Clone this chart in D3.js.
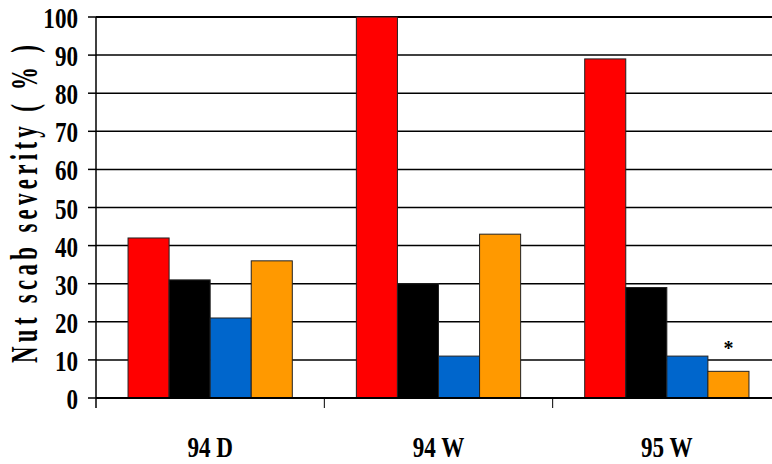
<!DOCTYPE html>
<html><head><meta charset="utf-8">
<script src="https://cdn.jsdelivr.net/npm/d3@7"></script>
<style>body{margin:0;background:#fff}svg{display:block}</style>
</head><body>
<svg id="c" width="772" height="464"></svg>
<script>
const categories = ["94 D", "94 W", "95 W"];
const seriesNames = ["s1", "s2", "s3", "s4"];
const seriesColors = ["#FF0000", "#000000", "#0066CC", "#FF9900"];
const s1 = [42, 100, 89];
const s2 = [31, 30, 29];
const s3 = [21, 11, 11];
const s4 = [36, 43, 7];
const yTicks = [0, 10, 20, 30, 40, 50, 60, 70, 80, 90, 100];
const yTitle = "Nut scab severity ( % )";
const seriesValues = [s1, s2, s3, s4];

(function () {
const svg = d3.select("#c");
const mLeft = 96, mRight = 781, mTop = 17, mBottom = 398;
const font = "'Liberation Serif','Times New Roman',serif";
const sx = 0.77;

const x = d3.scaleBand().domain(categories).range([mLeft, mRight]).padding(0);
const xi = d3.scaleBand().domain(seriesNames).range([0, x.bandwidth()]).paddingInner(0).paddingOuter(0.78);
const y = d3.scaleLinear().domain([0, 100]).range([mBottom, mTop]);

// gridlines
svg.append("g").selectAll("line").data(yTicks).join("line")
  .attr("x1", mLeft).attr("x2", 772)
  .attr("y1", d => y(d)).attr("y2", d => y(d))
  .attr("stroke", "#000").attr("stroke-width", d => (d === 100 ? 2 : 1.5));

// bars
const data = [];
categories.forEach((c, i) => seriesNames.forEach((s, j) => data.push({c, s, j, v: seriesValues[j][i]})));
svg.append("g").selectAll("rect").data(data).join("rect")
  .attr("x", d => x(d.c) + xi(d.s))
  .attr("y", d => y(d.v))
  .attr("width", xi.bandwidth())
  .attr("height", d => y(0) - y(d.v))
  .attr("fill", d => seriesColors[d.j])
  .attr("stroke", "#222").attr("stroke-width", 1);

// zero line
svg.append("line").attr("x1", mLeft).attr("x2", 772).attr("y1", y(0)).attr("y2", y(0))
  .attr("stroke", "#000").attr("stroke-width", 2);

// y axis line
svg.append("line").attr("x1", mLeft).attr("x2", mLeft).attr("y1", mTop).attr("y2", mBottom + 10)
  .attr("stroke", "#000").attr("stroke-width", 1.5);

// y ticks
svg.append("g").selectAll("line").data(yTicks).join("line")
  .attr("x1", mLeft - 8).attr("x2", mLeft)
  .attr("y1", d => y(d)).attr("y2", d => y(d))
  .attr("stroke", "#000").attr("stroke-width", 1.5);

svg.append("g").selectAll("text").data(yTicks).join("text")
  .attr("transform", d => `translate(78,${y(d) + 11}) scale(${sx},1)`)
  .attr("text-anchor", "end")
  .attr("font-family", font).attr("font-weight", "bold").attr("font-size", 30)
  .attr("fill", "#000")
  .text(d => d);

// category separators
const seps = categories.slice(1).map(c => x(c));
svg.append("g").selectAll("line").data(seps).join("line")
  .attr("x1", d => d).attr("x2", d => d)
  .attr("y1", mBottom).attr("y2", mBottom + 10)
  .attr("stroke", "#000").attr("stroke-width", 1);

// x labels
svg.append("g").selectAll("text").data(categories).join("text")
  .attr("transform", d => `translate(${x(d) + x.bandwidth() / 2},457) scale(${sx},1)`)
  .attr("text-anchor", "middle")
  .attr("font-family", font).attr("font-weight", "bold").attr("font-size", 30)
  .attr("fill", "#000")
  .text(d => d);

// y title
const tsx = 0.62;
svg.append("text")
  .attr("transform", `translate(37,204) rotate(-90) scale(${tsx},1)`)
  .attr("text-anchor", "middle")
  .attr("font-family", font).attr("font-weight", "bold").attr("font-size", 37)
  .attr("textLength", 318 / tsx).attr("lengthAdjust", "spacing")
  .attr("fill", "#000")
  .text(yTitle);

// asterisk on 95 W orange
svg.append("text")
  .attr("x", x("95 W") + xi("s4") + xi.bandwidth() / 2)
  .attr("y", y(s4[2]) - 16)
  .attr("text-anchor", "middle")
  .attr("font-family", font).attr("font-weight", "bold").attr("font-size", 20)
  .attr("fill", "#000")
  .text("*");
})();
</script>
</body></html>
